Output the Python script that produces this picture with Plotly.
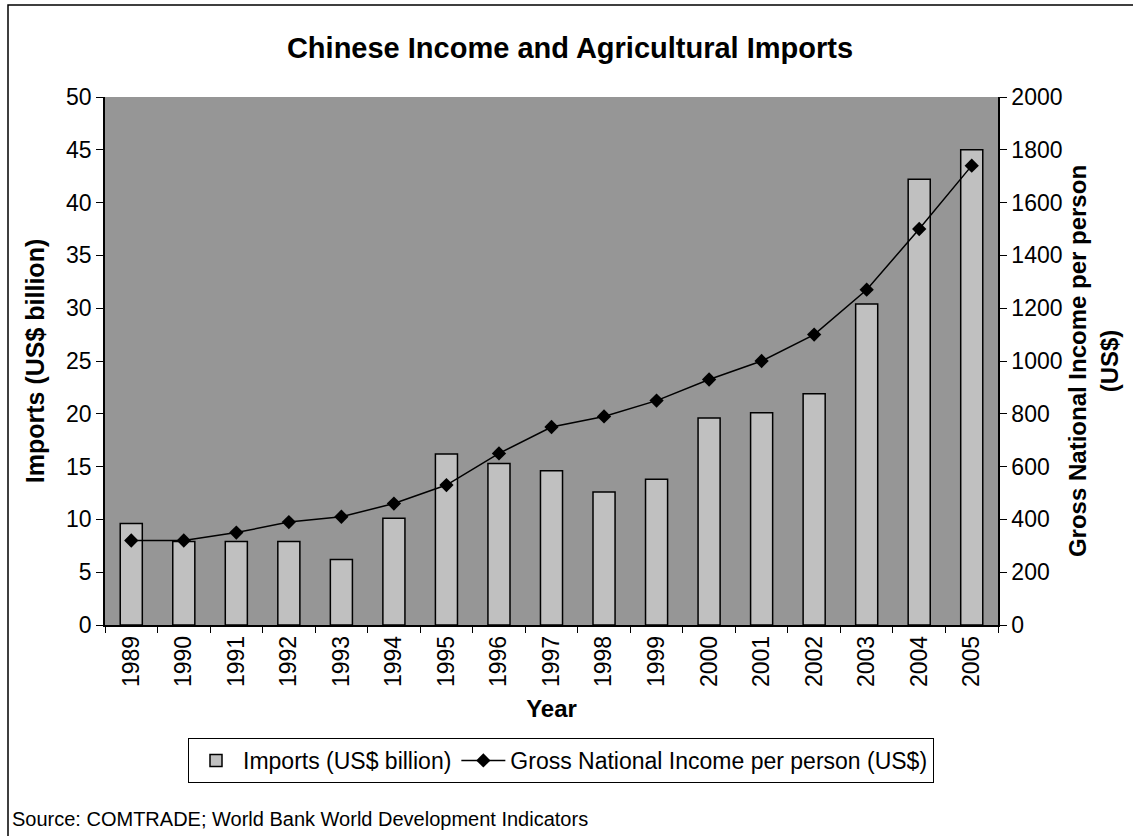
import plotly.graph_objects as go

years = ["1989", "1990", "1991", "1992", "1993", "1994", "1995", "1996", "1997",
         "1998", "1999", "2000", "2001", "2002", "2003", "2004", "2005"]
imports_bn = [9.6, 7.9, 7.9, 7.9, 6.2, 10.1, 16.2, 15.3, 14.6,
              12.6, 13.8, 19.6, 20.1, 21.9, 30.4, 42.2, 45.0]
gni_pp = [320, 320, 350, 390, 410, 460, 530, 650, 750,
          790, 850, 930, 1000, 1100, 1270, 1500, 1740]

W, H = 1133, 836
L, R, T, B = 105, 998, 97, 625

FONT = "Liberation Sans, Arial, sans-serif"

fig = go.Figure()
fig.add_trace(go.Bar(
    x=years, y=imports_bn, name="Imports (US$ billion)",
    marker=dict(color="#C0C0C0", line=dict(color="black", width=1.5)),
    yaxis="y",
))
fig.add_trace(go.Scatter(
    x=years, y=gni_pp, name="Gross National Income per person (US$)",
    mode="lines+markers",
    line=dict(color="black", width=1.5),
    marker=dict(symbol="diamond", size=11, color="black"),
    yaxis="y2",
))


def px_x(px):
    return (px - L) / (R - L)


def px_y(py):
    return (B - py) / (B - T)


fig.update_layout(
    width=W, height=H,
    margin=dict(l=L, r=W - R, t=T, b=H - B, autoexpand=False),
    paper_bgcolor="white",
    plot_bgcolor="#969696",
    font=dict(family=FONT, size=23, color="black"),
    bargap=0.58,
    showlegend=True,
    title=dict(text="<b>Chinese Income and Agricultural Imports</b>",
               x=570 / W, xanchor="center", y=1 - 48 / H, yanchor="middle",
               font=dict(size=29, family=FONT)),
    xaxis=dict(
        type="category", range=[-0.5, len(years) - 0.5], autorange=False,
        tickangle=-90, showline=True, linecolor="black", linewidth=1.5,
        ticks="outside", ticklen=6, tickcolor="black", tickson="boundaries",
        showgrid=False, tickfont=dict(size=23),
        title=dict(text="<b>Year</b>", font=dict(size=24), standoff=14),
    ),
    yaxis=dict(
        range=[0, 50], dtick=5, showline=True, linecolor="black", linewidth=1.5,
        ticks="outside", ticklen=7, tickcolor="black", showgrid=False, zeroline=False,
        tickfont=dict(size=23),
        title=dict(text="<b>Imports (US$ billion)</b>", font=dict(size=25), standoff=14),
    ),
    yaxis2=dict(
        range=[0, 2000], dtick=200, overlaying="y", side="right",
        showline=True, linecolor="black", linewidth=1.5,
        ticks="outside", ticklen=7, tickcolor="black", showgrid=False, zeroline=False,
        tickfont=dict(size=23),
        title=dict(text="<b>Gross National Income per person<br>(US$)</b>",
                   font=dict(size=24), standoff=8),
    ),
    legend=dict(
        orientation="h", xref="container", yref="container",
        x=561 / W, xanchor="center", y=1 - 738 / H, yanchor="top",
        bordercolor="black", borderwidth=1, bgcolor="white",
        font=dict(size=23), itemwidth=44, tracegroupgap=0,
    ),
    annotations=[dict(
        text="Source: COMTRADE; World Bank World Development Indicators",
        xref="paper", yref="paper", x=px_x(10), y=px_y(819),
        xanchor="left", yanchor="middle", showarrow=False,
        font=dict(size=20, family=FONT),
    )],
    shapes=[dict(
        type="rect", xref="paper", yref="paper",
        x0=px_x(8), x1=px_x(1150), y0=px_y(850), y1=px_y(5),
        line=dict(color="black", width=1.5), fillcolor="rgba(0,0,0,0)", layer="below",
    )],
)

fig.write_html("out.html", config={"displayModeBar": False},
               post_script="document.body.style.margin='0';")
